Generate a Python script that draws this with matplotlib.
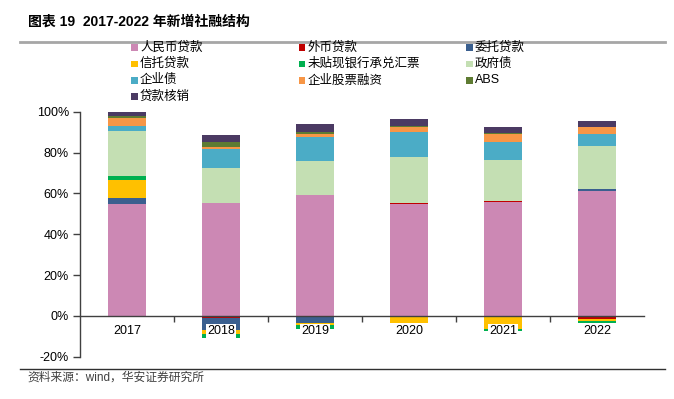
import numpy as np
import matplotlib
matplotlib.use("Agg")
import matplotlib.pyplot as plt
from matplotlib.patches import Rectangle
from matplotlib.lines import Line2D

plt.rcParams['font.family'] = ['Liberation Sans', 'Noto Sans CJK SC', 'DejaVu Sans']

years = ['2017', '2018', '2019', '2020', '2021', '2022']
series = ['人民币贷款', '外币贷款', '委托贷款', '信托贷款', '未贴现银行承兑汇票',
          '政府债', '企业债', '企业股票融资', 'ABS', '贷款核销']
colors = ['#CC88B4', '#C00000', '#3A5F8F', '#FFC000', '#00B050',
          '#C4DFB3', '#4BACC6', '#F79646', '#5E7B32', '#4B3A63']

# shares of new social financing, %
rmb_loan = [54.7, 55.2, 59.3, 54.6, 56.0, 61.3]
fx_loan = [0.0, -1.0, 0.0, 0.5, 0.5, -1.3]
entrusted = [2.9, -5.7, -3.6, -0.6, -0.3, 1.0]
trust = [9.0, -2.1, -1.1, -2.9, -5.9, -1.2]
bills = [2.0, -2.0, -1.5, 0.4, -1.0, -0.8]
gov_bond = [22.1, 17.0, 16.7, 22.5, 19.6, 20.7]
corp_bond = [2.1, 9.3, 11.4, 12.1, 9.0, 5.9]
equity = [4.1, 1.3, 1.5, 2.5, 3.9, 3.4]
abs_ = [0.8, 2.3, 1.2, 0.6, 0.8, 0.3]
writeoff = [2.8, 3.6, 3.9, 3.3, 2.8, 2.9]

data = [rmb_loan, fx_loan, entrusted, trust, bills,
        gov_bond, corp_bond, equity, abs_, writeoff]

fig = plt.figure(figsize=(6.74, 3.99), dpi=100)
W, H = 674, 399
ax = fig.add_axes([80 / W, 1 - 356.7 / H, (644 - 80) / W, (356.7 - 111.7) / H])

x = np.arange(len(years))
pos = np.zeros(len(years))
neg = np.zeros(len(years))
for vals, c in zip(data, colors):
    v = np.array(vals, dtype=float)
    base = np.where(v >= 0, pos, neg)
    ax.bar(x, v, 0.4, bottom=base, color=c, linewidth=0, zorder=1)
    pos = pos + np.where(v >= 0, v, 0)
    neg = neg + np.where(v < 0, v, 0)

ax.set_xlim(-0.5, 5.5)
ax.set_ylim(-20, 100)
ax.set_yticks(np.arange(-20, 101, 20))
ax.set_yticklabels([f'{t}%' for t in range(-20, 101, 20)])
ax.set_xticks(x)
ax.set_xticklabels(years)
ax.set_xticks(np.arange(0.5, 5, 1), minor=True)

for s in ['top', 'right']:
    ax.spines[s].set_visible(False)
ax.spines['bottom'].set_position(('data', 0))
for s in ['left', 'bottom']:
    ax.spines[s].set_color('#404040')
    ax.spines[s].set_linewidth(1)
    ax.spines[s].set_zorder(3)

ax.tick_params(axis='y', direction='out', length=5, width=1, color='#404040',
               labelsize=9, pad=3)
ax.tick_params(axis='x', which='major', length=0, labelsize=9, pad=6.5)
ax.tick_params(axis='x', which='minor', direction='out', length=4, width=1,
               color='#404040')
for lab in ax.get_xticklabels():
    lab.set_bbox(dict(facecolor='white', edgecolor='none', pad=1))

# legend, row-major in 3 columns
for i, (name, c) in enumerate(zip(series, colors)):
    col, row = i % 3, i // 3
    lx = 131 + col * 167.5
    ly = 47.5 + row * 16.4
    fig.add_artist(Rectangle((lx / W, 1 - (ly + 3.2) / H), 6.5 / W, 6.5 / H,
                             transform=fig.transFigure, color=c, lw=0))
    fig.text((lx + 9) / W, 1 - ly / H, name, fontsize=9, va='center', ha='left')

# title, rules and source
fig.text(28 / W, 1 - 22 / H, '图表 19  2017-2022 年新增社融结构', fontsize=10,
         fontweight='bold', va='center', ha='left')
fig.add_artist(Line2D([20 / W, 665 / W], [1 - 42 / H, 1 - 42 / H],
                      transform=fig.transFigure, color='#A6A6A6', lw=2))
fig.add_artist(Line2D([20 / W, 665 / W], [1 - 369 / H, 1 - 369 / H],
                      transform=fig.transFigure, color='#303030', lw=1))
fig.text(27 / W, 1 - 378 / H, '资料来源：wind，华安证券研究所', fontsize=8.5,
         color='#404040', va='center', ha='left')

fig.savefig('out.png', dpi=100)
